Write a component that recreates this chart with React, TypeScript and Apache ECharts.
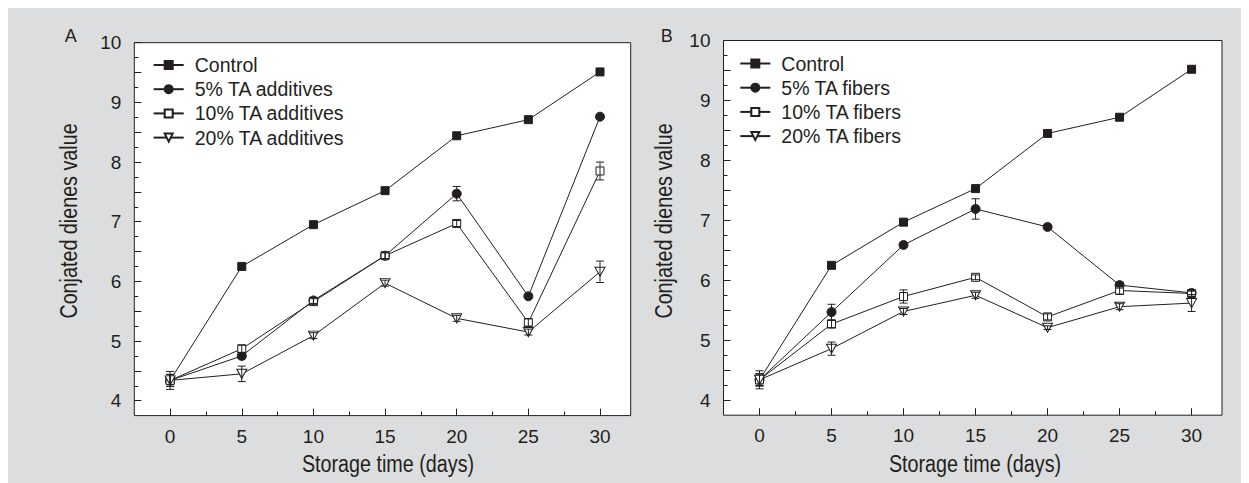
import React, { useEffect, useRef } from 'react';
import * as echarts from 'echarts';

// ---------- data ----------
const days = [0, 5, 10, 15, 20, 25, 30];
const xTickLabels = [0, 5, 10, 15, 20, 25, 30];
const yTickLabels = [4, 5, 6, 7, 8, 9, 10];

const namesA = ['Control', '5% TA additives', '10% TA additives', '20% TA additives'];
const namesB = ['Control', '5% TA fibers', '10% TA fibers', '20% TA fibers'];

const controlA = [4.34, 6.25, 6.95, 7.52, 8.44, 8.71, 9.51];
const additive5 = [4.34, 4.75, 5.68, 6.43, 7.47, 5.75, 8.76];
const additive10 = [4.34, 4.87, 5.66, 6.43, 6.97, 5.31, 7.85];
const additive20 = [4.34, 4.45, 5.09, 5.97, 5.38, 5.15, 6.16];

const controlAErr = [0.15, 0.03, 0.03, 0.03, 0.03, 0.03, 0.03];
const additive5Err = [0.1, 0.05, 0.05, 0.05, 0.12, 0.03, 0.03];
const additive10Err = [0.1, 0.06, 0.05, 0.05, 0.05, 0.06, 0.15];
const additive20Err = [0.1, 0.13, 0.05, 0.05, 0.05, 0.05, 0.18];

const controlB = [4.34, 6.25, 6.97, 7.53, 8.45, 8.72, 9.52];
const fiber5 = [4.34, 5.47, 6.59, 7.19, 6.89, 5.92, 5.79];
const fiber10 = [4.34, 5.27, 5.73, 6.05, 5.39, 5.83, 5.78];
const fiber20 = [4.34, 4.86, 5.48, 5.75, 5.21, 5.56, 5.62];

const controlBErr = [0.15, 0.03, 0.03, 0.03, 0.03, 0.03, 0.03];
const fiber5Err = [0.1, 0.13, 0.03, 0.17, 0.03, 0.05, 0.03];
const fiber10Err = [0.1, 0.06, 0.11, 0.04, 0.05, 0.06, 0.05];
const fiber20Err = [0.1, 0.11, 0.05, 0.05, 0.03, 0.05, 0.14];

// ---------- style ----------
const FONT = "'Liberation Sans', Arial, Helvetica, sans-serif";
const INK = '#231f20';
const BG = '#dcdddf';
const TRI_DOWN = 'path://M0,0 L20,0 L10,18 Z';

const markers = [
  { symbol: 'rect', size: 8, fill: INK },
  { symbol: 'circle', size: 9, fill: INK },
  { symbol: 'rect', size: 8, fill: '#ffffff' },
  { symbol: TRI_DOWN, size: [10, 9], fill: '#ffffff' },
];

type Geo = { left: number; right: number; top: number; bottom: number; x30: number };

function buildPanel(
  p: number,
  geo: Geo,
  names: string[],
  values: number[][],
  errs: number[][],
  legendLeft: number,
  legendTop: number
) {
  const gi = p * 3;
  const pxX = (geo.x30 - geo.left) / 32.5;
  const xMax = -2.5 + (geo.right - geo.left) / pxX;
  const pxY = (geo.bottom - geo.top) / 6.25;

  const grids = [
    {
      left: geo.left, top: geo.top, width: geo.right - geo.left, height: geo.bottom - geo.top,
      show: true, backgroundColor: '#ffffff', borderColor: INK, borderWidth: 1,
    },
    {
      left: geo.left + 2.5 * pxX, top: geo.top, width: 30 * pxX, height: geo.bottom - geo.top,
      show: false,
    },
    {
      left: geo.left, top: geo.top, width: geo.right - geo.left, height: 6 * pxY,
      show: false,
    },
  ];

  const hiddenAxis = (min: number, max: number, gridIndex: number) => ({
    type: 'value', gridIndex, min, max,
    axisLine: { show: false }, axisTick: { show: false }, axisLabel: { show: false },
    splitLine: { show: false },
  });

  const xAxes = [
    hiddenAxis(-2.5, xMax, gi),
    {
      type: 'value', gridIndex: gi + 1, min: 0, max: 30, interval: 5,
      axisLine: { show: false },
      axisTick: { show: true, inside: true, length: 7, lineStyle: { color: INK, width: 1 } },
      minorTick: { show: true, splitNumber: 2, length: 4, lineStyle: { color: INK, width: 1 } },
      axisLabel: {
        fontFamily: FONT, fontSize: 19, color: INK, margin: 11,
        formatter: (v: number) => (xTickLabels.includes(v) ? String(v) : ''),
      },
      splitLine: { show: false },
    },
    hiddenAxis(0, 1, gi + 2),
  ];

  const yAxes = [
    hiddenAxis(3.75, 10, gi),
    hiddenAxis(0, 1, gi + 1),
    {
      type: 'value', gridIndex: gi + 2, min: 4, max: 10, interval: 0.5,
      axisLine: { show: false },
      axisTick: { show: true, inside: true, length: 7, lineStyle: { color: INK, width: 1 } },
      minorTick: { show: true, splitNumber: 2, length: 4, lineStyle: { color: INK, width: 1 } },
      axisLabel: {
        fontFamily: FONT, fontSize: 19, color: INK, margin: 13,
        formatter: (v: number) => (yTickLabels.includes(v) ? String(v) : ''),
      },
      splitLine: { show: false },
    },
  ];

  const series: any[] = [];
  values.forEach((vals, k) => {
    const m = markers[k];
    series.push({
      type: 'line', name: names[k], xAxisIndex: gi, yAxisIndex: gi,
      data: days.map((d, i) => [d, vals[i]]),
      symbol: m.symbol, symbolSize: m.size, showSymbol: true,
      lineStyle: { color: INK, width: 1 },
      itemStyle: { color: m.fill, borderColor: INK, borderWidth: 1 },
      z: 2,
    });
  });
  values.forEach((vals, k) => {
    series.push({
      type: 'custom', name: `err-${p}-${k}`, xAxisIndex: gi, yAxisIndex: gi,
      data: days.map((d, i) => [d, vals[i] - errs[k][i], vals[i] + errs[k][i]]),
      encode: { x: 0, y: [1, 2] },
      z: 3,
      renderItem: (params: any, api: any) => {
        const x = api.value(0);
        const top = api.coord([x, api.value(2)]);
        const bot = api.coord([x, api.value(1)]);
        const hw = 4;
        const style = { stroke: INK, lineWidth: 1, fill: 'none' };
        return {
          type: 'group',
          children: [
            { type: 'line', shape: { x1: top[0], y1: top[1], x2: bot[0], y2: bot[1] }, style },
            { type: 'line', shape: { x1: top[0] - hw, y1: top[1], x2: top[0] + hw, y2: top[1] }, style },
            { type: 'line', shape: { x1: bot[0] - hw, y1: bot[1], x2: bot[0] + hw, y2: bot[1] }, style },
          ],
        };
      },
    });
  });

  const legend = {
    orient: 'vertical', left: legendLeft, top: legendTop, padding: 0,
    data: names, selectedMode: false,
    itemWidth: 30, itemHeight: 10, itemGap: 4.2,
    textStyle: { fontFamily: FONT, fontSize: 19.5, color: INK, lineHeight: 20, padding: [0, 0, 0, 6] },
  };

  return { grids, xAxes, yAxes, series, legend };
}

export default function App() {
  const ref = useRef<HTMLDivElement>(null);

  useEffect(() => {
    if (!ref.current) return;
    document.documentElement.style.overflow = 'hidden';
    const chart = echarts.init(ref.current, undefined, { renderer: 'svg' });

    const A = buildPanel(
      0,
      { left: 126.3, right: 622.7, top: 34.7, bottom: 407.6, x30: 592 },
      namesA,
      [controlA, additive5, additive10, additive20],
      [controlAErr, additive5Err, additive10Err, additive20Err],
      144.7, 47
    );
    const B = buildPanel(
      1,
      { left: 715.5, right: 1214, top: 32.5, bottom: 407.2, x30: 1183.6 },
      namesB,
      [controlB, fiber5, fiber10, fiber20],
      [controlBErr, fiber5Err, fiber10Err, fiber20Err],
      731.3, 45.5
    );

    const titleStyle = { fontFamily: FONT, fontSize: 23.5, fill: INK, align: 'center', verticalAlign: 'middle' };

    chart.setOption({
      animation: false,
      backgroundColor: BG,
      grid: [...A.grids, ...B.grids],
      xAxis: [...A.xAxes, ...B.xAxes],
      yAxis: [...A.yAxes, ...B.yAxes],
      legend: [A.legend, B.legend],
      series: [...A.series, ...B.series],
      graphic: [
        { type: 'text', x: 62.7, y: 27.8, style: { ...titleStyle, text: 'A', fontSize: 18 } },
        { type: 'text', x: 658.7, y: 27.5, style: { ...titleStyle, text: 'B', fontSize: 18 } },
        { type: 'text', x: 380, y: 456, scaleX: 0.84, style: { ...titleStyle, text: 'Storage time (days)' } },
        { type: 'text', x: 967, y: 456, scaleX: 0.84, style: { ...titleStyle, text: 'Storage time (days)' } },
        { type: 'text', x: 61, y: 213, rotation: Math.PI / 2, scaleX: 0.84, style: { ...titleStyle, text: 'Conjated dienes value' } },
        { type: 'text', x: 656, y: 213, rotation: Math.PI / 2, scaleX: 0.84, style: { ...titleStyle, text: 'Conjated dienes value' } },
      ],
    });

    return () => chart.dispose();
  }, []);

  return <div ref={ref} style={{ width: 1241, height: 475 }} />;
}
